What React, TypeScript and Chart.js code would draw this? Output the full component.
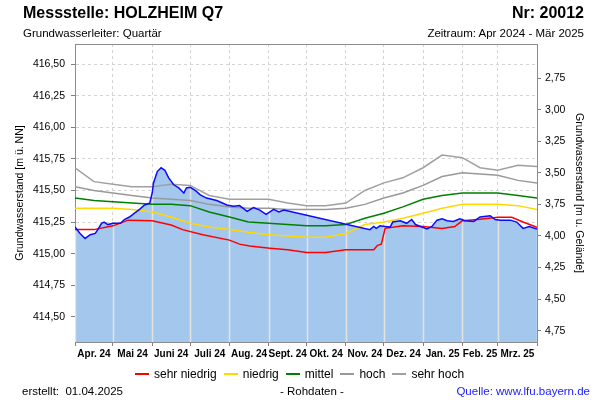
import React, { useEffect, useRef } from "react";
import { Chart, registerables } from "chart.js";
Chart.register(...registerables);

// ---- Data ----
const monthLabels = ["Apr. 24", "Mai 24", "Juni 24", "Juli 24", "Aug. 24", "Sept. 24", "Okt. 24", "Nov. 24", "Dez. 24", "Jan. 25", "Feb. 25", "Mrz. 25"];
const monthStartDays = [0, 30, 61, 91, 122, 153, 183, 214, 244, 275, 306, 334, 365];
const leftTicks = [414.5, 414.75, 415.0, 415.25, 415.5, 415.75, 416.0, 416.25, 416.5];
const rightTicks = [2.75, 3.0, 3.25, 3.5, 3.75, 4.0, 4.25, 4.5, 4.75];
const groundLevel = 419.14;
const yMin = 414.3;
const yMax = 416.66;

const measuredDays = [0, 4, 8, 12, 16, 18, 21, 23, 26, 30, 36, 39, 43, 47, 51, 55, 59, 61, 62, 65, 68, 71, 74, 78, 82, 86, 88, 91, 95, 99, 104, 112, 120, 125, 130, 136, 141, 146, 151, 157, 161, 165, 233, 236, 238, 241, 245, 249, 251, 257, 262, 266, 269, 273, 278, 282, 286, 290, 294, 299, 304, 308, 315, 320, 328, 332, 336, 344, 349, 354, 359, 365];
const measuredLevels = [415.21, 415.16, 415.12, 415.15, 415.16, 415.19, 415.24, 415.25, 415.23, 415.24, 415.24, 415.27, 415.29, 415.32, 415.35, 415.385, 415.4, 415.48, 415.56, 415.65, 415.68, 415.66, 415.6, 415.545, 415.52, 415.48, 415.52, 415.525, 415.5, 415.465, 415.44, 415.42, 415.385, 415.375, 415.38, 415.335, 415.365, 415.345, 415.31, 415.35, 415.33, 415.345, 415.19, 415.215, 415.2, 415.22, 415.215, 415.21, 415.25, 415.26, 415.24, 415.27, 415.23, 415.215, 415.195, 415.215, 415.265, 415.275, 415.26, 415.255, 415.275, 415.26, 415.255, 415.29, 415.3, 415.27, 415.265, 415.265, 415.25, 415.2, 415.215, 415.195];

const statDays = [0, 15, 30, 45, 61, 76, 91, 106, 122, 137, 153, 168, 183, 198, 214, 229, 244, 259, 275, 290, 306, 320, 334, 350, 365];
const sehrHoch = [415.68, 415.57, 415.55, 415.53, 415.53, 415.55, 415.54, 415.46, 415.43, 415.43, 415.43, 415.4, 415.38, 415.38, 415.4, 415.5, 415.56, 415.6, 415.68, 415.78, 415.76, 415.68, 415.66, 415.7, 415.69];
const hoch = [415.53, 415.5, 415.48, 415.46, 415.44, 415.43, 415.42, 415.39, 415.37, 415.36, 415.36, 415.35, 415.35, 415.35, 415.36, 415.39, 415.44, 415.48, 415.54, 415.61, 415.64, 415.63, 415.62, 415.58, 415.56];
const mittel = [415.44, 415.42, 415.41, 415.4, 415.39, 415.39, 415.38, 415.33, 415.29, 415.25, 415.24, 415.23, 415.22, 415.22, 415.23, 415.28, 415.32, 415.37, 415.43, 415.46, 415.48, 415.48, 415.48, 415.46, 415.44];
const niedrig = [415.36, 415.36, 415.36, 415.35, 415.33, 415.29, 415.24, 415.21, 415.19, 415.17, 415.15, 415.14, 415.13, 415.13, 415.16, 415.23, 415.25, 415.28, 415.32, 415.36, 415.39, 415.39, 415.39, 415.38, 415.35];

const sehrNiedrigDays = [0, 15, 30, 42, 61, 68, 76, 85, 101, 122, 130, 138, 154, 168, 183, 198, 214, 236, 239, 242, 245, 259, 275, 290, 300, 306, 320, 334, 345, 355, 365];
const sehrNiedrig = [415.19, 415.19, 415.22, 415.265, 415.26, 415.245, 415.227, 415.19, 415.15, 415.107, 415.075, 415.06, 415.043, 415.03, 415.008, 415.008, 415.03, 415.03, 415.065, 415.075, 415.2, 415.22, 415.214, 415.198, 415.214, 415.26, 415.272, 415.288, 415.288, 415.246, 415.209];

const legendItems = [
  { label: "sehr niedrig", color: "#ff0000" },
  { label: "niedrig", color: "#ffd800" },
  { label: "mittel", color: "#008000" },
  { label: "hoch", color: "#999999" },
  { label: "sehr hoch", color: "#a0a0a0" },
];

const FONT = "'Liberation Sans', Arial, sans-serif";
const FILL = "rgb(164,199,238)";

const toXY = (days: number[], vals: number[]) => days.map((d, i) => ({ x: d, y: vals[i] }));

const monthCenters = monthLabels.map((_, i) => (monthStartDays[i] + monthStartDays[i + 1]) / 2);
const isBoundary = (v: number) => monthStartDays.indexOf(v) !== -1;

export default function App() {
  const ref = useRef<HTMLCanvasElement | null>(null);

  useEffect(() => {
    if (!ref.current) return;

    const fillGridPlugin = {
      id: "fillGrid",
      beforeDatasetsDraw(chart: any) {
        const meta = chart.getDatasetMeta(0);
        const pts = meta.data;
        if (!pts || !pts.length) return;
        const { ctx, chartArea } = chart;
        const xs = chart.scales.x;
        ctx.save();
        ctx.beginPath();
        ctx.rect(chartArea.left, chartArea.top, chartArea.right - chartArea.left, chartArea.bottom - chartArea.top);
        ctx.clip();
        ctx.beginPath();
        ctx.moveTo(pts[0].x, chartArea.bottom);
        for (const p of pts) ctx.lineTo(p.x, p.y);
        ctx.lineTo(pts[pts.length - 1].x, chartArea.bottom);
        ctx.closePath();
        ctx.clip();
        ctx.strokeStyle = "#e2e2e2";
        ctx.lineWidth = 1.5;
        for (const d of monthStartDays) {
          const x = Math.round(xs.getPixelForValue(d)) + 0.5;
          ctx.beginPath();
          ctx.moveTo(x, chartArea.top);
          ctx.lineTo(x, chartArea.bottom);
          ctx.stroke();
        }
        ctx.restore();
      },
    };

    const framePlugin = {
      id: "frameTop",
      afterDraw(chart: any) {
        const { ctx, chartArea } = chart;
        ctx.save();
        ctx.strokeStyle = "#8c8c8c";
        ctx.lineWidth = 1;
        ctx.beginPath();
        ctx.moveTo(chartArea.left, Math.round(chartArea.top) + 0.5);
        ctx.lineTo(chartArea.right, Math.round(chartArea.top) + 0.5);
        ctx.stroke();
        ctx.restore();
      },
    };

    const lineDs = (label: string, data: any[], color: string) => ({
      label,
      data,
      borderColor: color,
      borderWidth: 1.5,
      pointRadius: 0,
      fill: false,
      tension: 0,
      yAxisID: "y",
    });

    const chart = new Chart(ref.current, {
      type: "line",
      data: {
        datasets: [
          {
            label: "Messwerte",
            data: toXY(measuredDays, measuredLevels),
            borderColor: "#0a0aff",
            backgroundColor: FILL,
            borderWidth: 1.5,
            pointRadius: 0,
            fill: "start",
            tension: 0,
            yAxisID: "y",
          },
          lineDs("sehr niedrig", toXY(sehrNiedrigDays, sehrNiedrig), "#ff0000"),
          lineDs("niedrig", toXY(statDays, niedrig), "#ffd800"),
          lineDs("mittel", toXY(statDays, mittel), "#008000"),
          lineDs("hoch", toXY(statDays, hoch), "#999999"),
          lineDs("sehr hoch", toXY(statDays, sehrHoch), "#a0a0a0"),
        ] as any,
      },
      options: {
        responsive: false,
        animation: false,
        devicePixelRatio: 1,
        layout: { padding: { top: 44, left: 0, right: 0, bottom: 0 } },
        plugins: {
          legend: { display: false },
          tooltip: { enabled: false },
          filler: { drawTime: "beforeDatasetsDraw" } as any,
        },
        scales: {
          x: {
            type: "linear",
            min: 0,
            max: 365,
            afterBuildTicks: (scale: any) => {
              const vals = [...monthStartDays, ...monthCenters].sort((a, b) => a - b);
              scale.ticks = vals.map((v) => ({ value: v }));
            },
            afterFit: (scale: any) => {
              scale.height = 58;
            },
            ticks: {
              autoSkip: false,
              maxRotation: 0,
              minRotation: 0,
              padding: 2,
              color: "#000",
              font: { family: FONT, size: 10, weight: "bold" },
              callback: (value: any) => {
                const i = monthCenters.indexOf(Number(value));
                return i >= 0 ? monthLabels[i] : "";
              },
            },
            grid: {
              color: (ctx: any) => (ctx.tick && isBoundary(ctx.tick.value) ? "#d4d4d4" : "rgba(0,0,0,0)"),
              tickColor: (ctx: any) => (ctx.tick && isBoundary(ctx.tick.value) ? "#808080" : "rgba(0,0,0,0)"),
              tickLength: 4,
              tickBorderDash: [],
              drawTicks: true,
            },
            border: { display: true, color: "#8c8c8c", width: 1, dash: [3, 3] },
          },
          y: {
            type: "linear",
            position: "left",
            min: yMin,
            max: yMax,
            afterBuildTicks: (scale: any) => {
              scale.ticks = leftTicks.map((v) => ({ value: v }));
            },
            afterFit: (scale: any) => {
              scale.width = 75;
            },
            ticks: {
              padding: 6,
              color: "#000",
              font: { family: FONT, size: 10.5 },
              callback: (v: any) => Number(v).toFixed(2).replace(".", ","),
            },
            grid: {
              color: "#d4d4d4",
              tickColor: "#808080",
              tickLength: 4,
              tickBorderDash: [],
            },
            border: { display: true, color: "#8c8c8c", width: 1, dash: [3, 3] },
            title: {
              display: true,
              text: "Grundwasserstand [m ü. NN]",
              color: "#000",
              font: { family: FONT, size: 10.5 },
              padding: { top: 14, bottom: 0 },
            },
          },
          y2: {
            type: "linear",
            position: "right",
            reverse: true,
            min: groundLevel - yMax,
            max: groundLevel - yMin,
            afterBuildTicks: (scale: any) => {
              scale.ticks = rightTicks.map((v) => ({ value: v }));
            },
            afterFit: (scale: any) => {
              scale.width = 63;
            },
            ticks: {
              padding: 4,
              color: "#000",
              font: { family: FONT, size: 10.5 },
              callback: (v: any) => Number(v).toFixed(2).replace(".", ","),
            },
            grid: {
              drawOnChartArea: false,
              tickColor: "#808080",
              tickLength: 4,
              tickBorderDash: [],
            },
            border: { display: true, color: "#8c8c8c", width: 1 },
            title: {
              display: true,
              text: "Grundwasserstand [m u. Gelände]",
              color: "#000",
              font: { family: FONT, size: 10.5 },
              padding: { top: 15, bottom: 0 },
            },
          },
        },
      } as any,
      plugins: [fillGridPlugin, framePlugin],
    });

    return () => chart.destroy();
  }, []);

  const abs = (s: React.CSSProperties): React.CSSProperties => ({ position: "absolute", whiteSpace: "pre", fontFamily: FONT, color: "#000", ...s });

  return (
    <div style={{ position: "absolute", left: 0, top: 0, width: 600, height: 400, background: "#fff", overflow: "hidden" }}>
      <canvas ref={ref} width={600} height={400} style={{ position: "absolute", left: 0, top: 0, width: 600, height: 400 }} />
      <div style={abs({ left: 23, top: 5, fontSize: 16, lineHeight: "16px", fontWeight: "bold" })}>Messstelle: HOLZHEIM Q7</div>
      <div style={abs({ right: 16, top: 5, fontSize: 16, lineHeight: "16px", fontWeight: "bold" })}>Nr: 20012</div>
      <div style={abs({ left: 23, top: 27, fontSize: 11.5, lineHeight: "12px" })}>Grundwasserleiter: Quartär</div>
      <div style={abs({ right: 16, top: 27, fontSize: 11.5, lineHeight: "12px" })}>Zeitraum: Apr 2024 - Mär 2025</div>
      <div style={abs({ left: 135, top: 366, height: 16, display: "flex", alignItems: "center", fontSize: 12, lineHeight: "16px" })}>
        {legendItems.map((it) => (
          <div key={it.label} style={{ display: "flex", alignItems: "center", marginRight: 7 }}>
            <span style={{ display: "inline-block", width: 14, height: 2, background: it.color, marginRight: 5 }} />
            <span>{it.label}</span>
          </div>
        ))}
      </div>
      <div style={abs({ left: 22, top: 385, fontSize: 11.5, lineHeight: "12px" })}>{"erstellt:  01.04.2025"}</div>
      <div style={abs({ left: 280, top: 385, fontSize: 11.5, lineHeight: "12px" })}>- Rohdaten -</div>
      <div style={abs({ right: 10, top: 385, fontSize: 11.5, lineHeight: "12px", color: "#2020ff" })}>Quelle: www.lfu.bayern.de</div>
    </div>
  );
}
